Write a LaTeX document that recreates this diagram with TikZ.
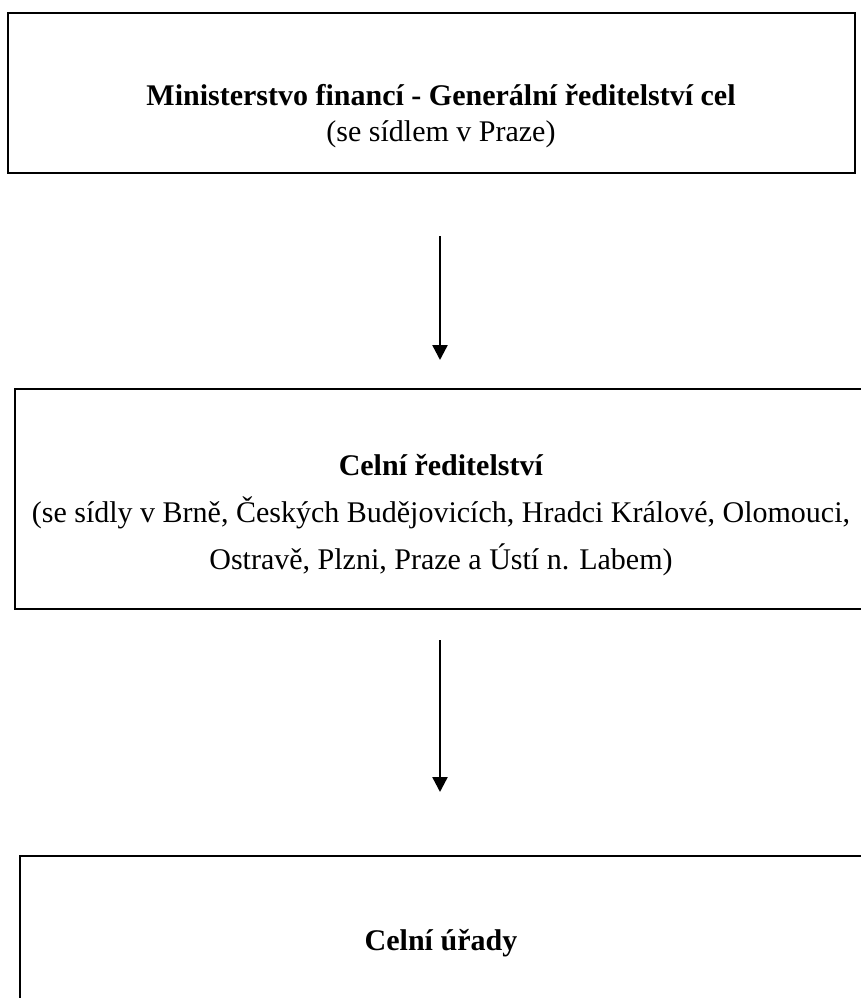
\documentclass[tikz,border=0pt]{standalone}
\usepackage{fontspec}
\setmainfont{Liberation Serif}
\usetikzlibrary{arrows.meta, positioning}
\tikzset{>={Triangle[length=15pt,width=15pt]}}
\tikzset{
  box/.style={draw, line width=2.8pt, inner sep=0pt},
  txt/.style={align=center, inner sep=0pt, font=\fontsize{30}{47}\selectfont},
  flow/.style={->, line width=2.4pt}
}

\begin{document}
\begin{tikzpicture}[x=1pt, y=-1pt]
    \useasboundingbox (0,0) rectangle (861,998);

    % boxes
    \node[box, minimum width=847pt, minimum height=160pt] (mf) at (431.5,93) {};
    \node[box, minimum width=855pt, minimum height=220pt] (cr) at (442.5,499) {};
    \node[box, minimum width=850pt, minimum height=180pt] (cu) at (445,946) {};

    % texts
    \node[txt] (mftext) at (441,116) {\textbf{Ministerstvo financí - Generální ředitelství cel}\\[-11pt] (se sídlem v Praze)};
    \node[txt] (crtext) at (441,515) {\textbf{Celní ředitelství}\\ (se sídly v Brně, Českých Budějovicích, Hradci Králové, Olomouci,\\ Ostravě, Plzni, Praze a Ústí n. Labem)};
    \node[txt] (cutext) at (441,943) {\textbf{Celní úřady}};

    % arrows
    \coordinate (a1s) at (440,236);
    \coordinate (a1e) at (440,360);
    \coordinate (a2s) at (440,640);
    \coordinate (a2e) at (440,792);
    \draw[flow] (a1s) -- (a1e);
    \draw[flow] (a2s) -- (a2e);
\end{tikzpicture}
\end{document}
